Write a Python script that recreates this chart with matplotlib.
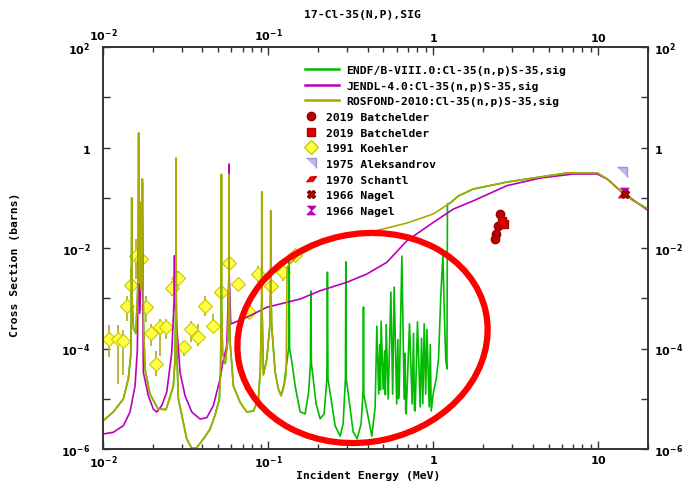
import matplotlib
matplotlib.use("Agg")
import matplotlib.pyplot as plt
from matplotlib.lines import Line2D
from matplotlib.patches import Ellipse
from matplotlib.ticker import FixedLocator, NullFormatter
import numpy as np

# resolved resonance region shared by ENDF/B-VIII.0 and ROSFOND-2010 (MeV, barns)
res_e = [0.01004, 0.01154, 0.01328, 0.01423, 0.01472, 0.01486, 0.01493, 0.01500, 0.0153, 0.0158,
         0.0162, 0.01640, 0.01646, 0.01652, 0.0166, 0.01670, 0.01676, 0.01682, 0.0170, 0.01722,
         0.0173, 0.01738, 0.0176, 0.01797, 0.01927, 0.02154, 0.02409, 0.02668, 0.02732, 0.02762,
         0.02770, 0.02778, 0.0281, 0.02860, 0.03217, 0.03449, 0.03698, 0.04055, 0.04452, 0.04772,
         0.05068, 0.0515, 0.05202, 0.05212, 0.05222, 0.0530, 0.0550, 0.0570, 0.05792, 0.05802,
         0.05812, 0.0590, 0.06163, 0.06766, 0.07429, 0.08145, 0.08733, 0.0898, 0.09148, 0.09158,
         0.09168, 0.09366, 0.09819, 0.1026, 0.1036, 0.1038, 0.1040, 0.1050, 0.1103, 0.1154, 0.1199]
res_xs = [3.66e-6, 5.45e-6, 9.9e-6, 2.47e-5, 7.2e-5, 8e-4, 0.099, 8e-4, 2.5e-4, 2e-4,
          1.2e-3, 0.01, 1.92, 0.01, 2e-3, 4e-3, 0.081, 4e-3, 1.5e-3, 0.01,
          0.236, 0.01, 3e-4, 3.9e-5, 1.24e-5, 6.25e-6, 6.1e-6, 1.79e-5, 6.2e-5, 1e-3,
          0.61, 1e-3, 6e-5, 9.9e-6, 1.58e-6, 1.03e-6, 1.06e-6, 1.58e-6, 2.5e-6, 4.7e-6,
          9.9e-6, 3.5e-5, 8e-4, 0.29, 8e-4, 8e-5, 5e-5, 1.5e-4, 2e-3, 0.29,
          2e-3, 1.2e-4, 1.79e-5, 8.5e-6, 5.45e-6, 5.7e-6, 9.9e-6, 4e-5, 1e-3, 0.13,
          1e-3, 3e-5, 6.2e-5, 3e-4, 2e-3, 0.055, 2e-3, 3e-4, 3.4e-5, 1.56e-5, 1.15e-5]

# ROSFOND smooth part up to 1 MeV
rosfond_mid_e = [0.1238, 0.1285, 0.1304, 0.150, 0.207, 0.301, 0.415, 0.526, 0.696, 1.0]
rosfond_mid_xs = [1.56e-5, 3e-5, 4.2e-3, 6.9e-3, 0.012, 0.0173, 0.0208, 0.025, 0.0315, 0.0475]

# ENDF resonances from 0.125 to 1.2 MeV
endf_mid_e = [0.1250, 0.1331, 0.1340, 0.1350, 0.1398, 0.1458, 0.1563, 0.1676, 0.1760, 0.1805,
              0.1815, 0.1830, 0.1954, 0.2066, 0.2184, 0.2270, 0.2287, 0.2305, 0.2547, 0.2731,
              0.2848, 0.2940, 0.2957, 0.2975, 0.3275, 0.3463, 0.3661, 0.3765, 0.3781, 0.3800,
              0.4250, 0.4450, 0.4557, 0.4673, 0.4750, 0.4790, 0.4839, 0.4977, 0.5080, 0.5130,
              0.5190, 0.5337, 0.5541, 0.5682, 0.5802, 0.6008, 0.6110, 0.6160, 0.6221, 0.6460,
              0.6670, 0.6760, 0.6810, 0.6860, 0.7183, 0.7458, 0.7600, 0.7700, 0.7777, 0.8030,
              0.8340, 0.8500, 0.8650, 0.8820, 0.9005, 0.9158, 0.9458, 0.9600, 0.9725, 1.004,
              1.043, 1.077, 1.110, 1.145, 1.166, 1.191, 1.211, 1.220]
endf_mid_xs = [1.97e-5, 1e-4, 6e-3, 1e-4, 5e-5, 1.8e-5, 5.5e-6, 5e-6, 1.36e-5, 5e-5,
               1.39e-3, 5e-5, 7.9e-6, 4e-6, 5e-6, 2.5e-5, 3.3e-3, 2.5e-5, 2.9e-6, 1.8e-6,
               3.2e-6, 2.5e-5, 5.3e-3, 2.5e-5, 2.2e-6, 1.6e-6, 3.2e-6, 1.56e-5, 6.7e-4, 1.2e-5,
               1.8e-6, 6.9e-6, 2.8e-4, 1.24e-5, 1.2e-4, 1.5e-5, 3.5e-4, 1.56e-5, 9e-5, 1.2e-5,
               3e-4, 9.9e-6, 1.33e-3, 1.24e-5, 1.67e-3, 7.9e-6, 1.5e-4, 1.0e-5, 1.24e-5, 6.9e-3,
               9.9e-6, 8e-5, 6e-6, 5e-6, 3.1e-4, 7.9e-6, 2.0e-4, 6e-6, 5.7e-6, 3.4e-4,
               6.9e-6, 1.6e-4, 8e-6, 3.1e-4, 1.24e-5, 2.4e-4, 6.9e-6, 1.2e-4, 5.7e-6, 1.36e-5,
               2.5e-5, 6.2e-5, 9.7e-4, 7.6e-3, 6e-4, 6.2e-5, 3.9e-5, 0.0751]

# fast region (ENDF and ROSFOND agree)
fast_e = [1.268, 1.418, 1.747, 2.809, 4.451, 6.487, 9.86, 11.34, 13.59, 16.30, 20.0]
fast_xs = [0.0787, 0.108, 0.149, 0.206, 0.259, 0.311, 0.311, 0.236, 0.138, 0.0873, 0.0597]

jendl_e = [0.01004, 0.01154, 0.01328, 0.01458, 0.01563, 0.01614, 0.01640, 0.01646, 0.01652, 0.0167,
           0.01722, 0.0173, 0.01738, 0.01755, 0.01882, 0.02017, 0.02115, 0.02268, 0.02433, 0.02608,
           0.02700, 0.02710, 0.02720, 0.02929, 0.0314, 0.03449, 0.03871, 0.04251, 0.04662, 0.05119,
           0.0530, 0.0562, 0.05792, 0.05802, 0.05812, 0.0594, 0.0743, 0.0982, 0.1298, 0.1563,
           0.2066, 0.2999, 0.3963, 0.5241, 0.6929, 1.004, 1.327, 1.755, 2.797, 4.451,
           7.086, 9.82, 11.3, 13.6, 20.0]
jendl_xs = [1.99e-6, 2.15e-6, 2.91e-6, 5.45e-6, 1.79e-5, 9e-5, 0.01, 1.9, 0.01, 5e-4,
            0.01, 0.2, 0.01, 3.36e-5, 1.15e-5, 6.25e-6, 5.45e-6, 7.28e-6, 1.36e-5, 8.2e-5,
            1e-3, 7e-3, 1e-3, 3.36e-5, 1.15e-5, 5.45e-6, 3.95e-6, 4.2e-6, 7.3e-6, 2.47e-5,
            5e-5, 1.14e-4, 3e-3, 0.47, 3e-3, 3.07e-4, 4.18e-4, 6.6e-4, 8.3e-4, 9.66e-4,
            1.41e-3, 2.08e-3, 3.04e-3, 5.19e-3, 0.01397, 0.0325, 0.0597, 0.0873, 0.174, 0.247,
            0.297, 0.297, 0.236, 0.138, 0.056]

# experimental data
koehler_e = [0.01087, 0.01239, 0.01316, 0.01393, 0.01473, 0.01592, 0.0169, 0.01828, 0.01945, 0.02086,
             0.02215, 0.0241, 0.0262, 0.02857, 0.0311, 0.0341, 0.0375, 0.0415, 0.0462, 0.0519,
             0.0578, 0.0658, 0.0767, 0.0874, 0.1035, 0.1228, 0.1448]
koehler_xs = [1.55e-4, 1.55e-4, 1.43e-4, 6.9e-4, 1.84e-3, 6.8e-3, 6.0e-3, 6.7e-4, 2.03e-4, 4.99e-5,
              2.64e-4, 2.72e-4, 1.58e-3, 2.56e-3, 1.06e-4, 2.44e-4, 1.72e-4, 7.0e-4, 2.84e-4, 1.31e-3,
              5.0e-3, 1.92e-3, 5.4e-4, 3.04e-3, 1.73e-3, 3.28e-3, 7.1e-3]
koehler_lo = [6.7e-5, 2e-5, 3e-5, 3.6e-4, 9.7e-4, 2.4e-3, 2.4e-3, 3.3e-4, 1.14e-4, 2.9e-5,
              7.2e-5, 1.55e-4, 1.12e-3, 1.78e-3, 7.2e-5, 1.33e-4, 1.14e-4, 4.5e-4, 2.1e-4, 8.3e-4,
              2.8e-3, 1.53e-3, 3.9e-4, 2.07e-3, 1.12e-3, 2.24e-3, 5.3e-3]
koehler_hi = [2.9e-4, 2.9e-4, 2.3e-4, 1.12e-3, 4.1e-3, 0.0151, 0.0151, 1.12e-3, 3.08e-4, 9.0e-5,
              3.9e-4, 3.9e-4, 2.24e-3, 3.5e-3, 1.43e-4, 3.58e-4, 3.08e-4, 1.12e-3, 4.86e-4, 1.78e-3,
              8.2e-3, 2.4e-3, 7.1e-4, 4.4e-3, 2.4e-3, 4.4e-3, 9.5e-3]

batch_c_e = [2.55, 2.48, 2.41, 2.38]
batch_c_xs = [0.0475, 0.0274, 0.019, 0.0151]
batch_s_e = [2.70, 2.62]
batch_s_xs = [0.030, 0.034]
aleks_e, aleks_xs = [13.9], [0.33]
schantl_e, schantl_xs = [14.1], [0.115]
nagel1_e, nagel1_xs = [14.5], [0.12]
nagel2_e, nagel2_xs = [14.3], [0.13]

labels = ["ENDF/B-VIII.0:Cl-35(n,p)S-35,sig", "JENDL-4.0:Cl-35(n,p)S-35,sig",
          "ROSFOND-2010:Cl-35(n,p)S-35,sig", "2019 Batchelder", "2019 Batchelder",
          "1991 Koehler", "1975 Aleksandrov", "1970 Schantl", "1966 Nagel", "1966 Nagel"]

x_ticks = [0.01, 0.1, 1, 10]
x_ticklabels = [r"$\mathbf{10^{-2}}$", r"$\mathbf{10^{-1}}$", r"$\mathbf{1}$", r"$\mathbf{10}$"]
y_ticks = [1e-6, 1e-4, 1e-2, 1, 1e2]
y_ticklabels = [r"$\mathbf{10^{-6}}$", r"$\mathbf{10^{-4}}$", r"$\mathbf{10^{-2}}$",
                r"$\mathbf{1}$", r"$\mathbf{10^{2}}$"]

green, magenta, olive = "#00BB00", "#BB00BB", "#AAAA00"
mono = "DejaVu Sans Mono"
tri = [(-1, 1), (1, 1), (1, -1)]
hourglass = [(-1, 1), (1, 1), (-1, -1), (1, -1)]
slant = [(-1, -0.6), (-0.2, 0.5), (1, 0.6), (0.2, -0.5)]

endf_e = res_e + endf_mid_e + fast_e
endf_xs = res_xs + endf_mid_xs + fast_xs
rosfond_e = res_e + rosfond_mid_e + fast_e
rosfond_xs = res_xs + rosfond_mid_xs + fast_xs

fig = plt.figure(figsize=(6.83, 4.85), dpi=100)
ax = fig.add_axes([103 / 683, 35 / 485, 545 / 683, 402 / 485])

kx = np.array(koehler_xs)
kerr = [kx - np.array(koehler_lo), np.array(koehler_hi) - kx]
ax.errorbar(koehler_e, koehler_xs, yerr=kerr, fmt="D", ms=7, mfc="#FFFF44", mec="#C8C800",
            mew=0.8, ecolor="#B8B030", elinewidth=1.3, capsize=0, zorder=2)

ax.plot(endf_e, endf_xs, color=green, lw=1.2, zorder=3)
ax.plot(jendl_e, jendl_xs, color=magenta, lw=1.2, zorder=3.1)
ax.plot(rosfond_e, rosfond_xs, color=olive, lw=1.2, zorder=3.2)

ax.errorbar(batch_c_e, batch_c_xs, yerr=np.array(batch_c_xs) * 0.12, fmt="o", ms=6,
            mfc="#C00000", mec="#900000", ecolor="#C00000", capsize=0, zorder=4)
ax.errorbar(batch_s_e, batch_s_xs, yerr=np.array(batch_s_xs) * 0.1, fmt="s", ms=5.5,
            mfc="#E00000", mec="#B00000", ecolor="#E00000", capsize=0, zorder=4)
ax.plot(aleks_e, aleks_xs, ls="none", marker=tri, ms=7, mfc="#B8B8F0", mec="#9898D8", zorder=4)
ax.plot(nagel2_e, nagel2_xs, ls="none", marker=hourglass, ms=6, mfc=magenta, mec=magenta, zorder=4)
ax.plot(schantl_e, schantl_xs, ls="none", marker=slant, ms=7, mfc="#FF0000", mec="#D00000", zorder=4)
ax.plot(nagel1_e, nagel1_xs, ls="none", marker="X", ms=6, mfc="#B00000", mec="#900000", zorder=4)

ax.set_xscale("log")
ax.set_yscale("log")
ax.set_xlim(0.01, 20)
ax.set_ylim(1e-6, 1e2)

ax.xaxis.set_major_locator(FixedLocator(x_ticks))
ax.set_xticklabels(x_ticklabels)
ax.xaxis.set_minor_locator(FixedLocator([m * d for d in x_ticks for m in range(2, 10)]))
ax.xaxis.set_minor_formatter(NullFormatter())
ax.yaxis.set_major_locator(FixedLocator(y_ticks))
ax.set_yticklabels(y_ticklabels)
ax.yaxis.set_minor_locator(FixedLocator([1e-5, 1e-3, 1e-1, 1e1]))
ax.yaxis.set_minor_formatter(NullFormatter())

ax.tick_params(which="both", direction="in", top=True, right=False, labeltop=True,
               labelsize=8, color="#333333", width=1)
ax.tick_params(axis="x", which="major", length=6, pad=3)
ax.tick_params(axis="x", which="minor", length=3.5)
ax.tick_params(axis="y", which="both", length=5, pad=9)

# right-hand axis labels sit closer to the frame than the left ones
axr = ax.twinx()
axr.set_yscale("log")
axr.set_ylim(1e-6, 1e2)
axr.yaxis.set_major_locator(FixedLocator(y_ticks))
axr.set_yticklabels(y_ticklabels)
axr.yaxis.set_minor_locator(FixedLocator([1e-5, 1e-3, 1e-1, 1e1]))
axr.yaxis.set_minor_formatter(NullFormatter())
axr.tick_params(which="both", direction="in", length=5, pad=4, labelsize=8,
                color="#333333", width=1)

for a in (ax, axr):
    for s in a.spines.values():
        s.set_linewidth(1.2)
        s.set_color("#333333")

font = {"family": mono, "weight": "bold", "size": 8.2}
fig.text(362 / 683, 1 - 15 / 485, "17-Cl-35(N,P),SIG", ha="center", va="center", **font)
fig.text(368 / 683, 1 - 476 / 485, "Incident Energy (MeV)", ha="center", va="center", **font)
fig.text(15 / 683, 1 - 265 / 485, "Cross Section (barns)", ha="center", va="center",
         rotation=90, **font)

line_handles = [Line2D([], [], color=c, lw=1.8) for c in (green, magenta, olive)]
leg1 = axr.legend(line_handles, labels[:3], loc="upper left", bbox_to_anchor=(305 / 683, 1 - 66 / 485),
                  bbox_transform=fig.transFigure, frameon=False, handlelength=3.0,
                  handletextpad=0.6, labelspacing=0.5, borderpad=0, borderaxespad=0, prop=font)
axr.add_artist(leg1)

mark_handles = [
    Line2D([], [], ls="none", marker="o", ms=6, mfc="#C00000", mec="#900000"),
    Line2D([], [], ls="none", marker="s", ms=5.5, mfc="#E00000", mec="#B00000"),
    Line2D([], [], ls="none", marker="D", ms=7, mfc="#FFFF44", mec="#C8C800"),
    Line2D([], [], ls="none", marker=tri, ms=7, mfc="#B8B8F0", mec="#9898D8"),
    Line2D([], [], ls="none", marker=slant, ms=7, mfc="#FF0000", mec="#D00000"),
    Line2D([], [], ls="none", marker="X", ms=6, mfc="#B00000", mec="#900000"),
    Line2D([], [], ls="none", marker=hourglass, ms=6, mfc=magenta, mec=magenta),
]
leg2 = axr.legend(mark_handles, labels[3:], loc="upper left", bbox_to_anchor=(305 / 683, 1 - 113 / 485),
                  bbox_transform=fig.transFigure, frameon=False, handlelength=1.0,
                  handletextpad=0.8, labelspacing=0.5, borderpad=0, borderaxespad=0, prop=font)

# red highlight drawn over the ENDF resonance region
ring = Ellipse((3.625, 4.85 - 3.39), 2.52, 2.08, angle=12, transform=fig.dpi_scale_trans,
               fill=False, ec="red", lw=4.5, zorder=10)
fig.add_artist(ring)

fig.savefig("out.png", dpi=100)
